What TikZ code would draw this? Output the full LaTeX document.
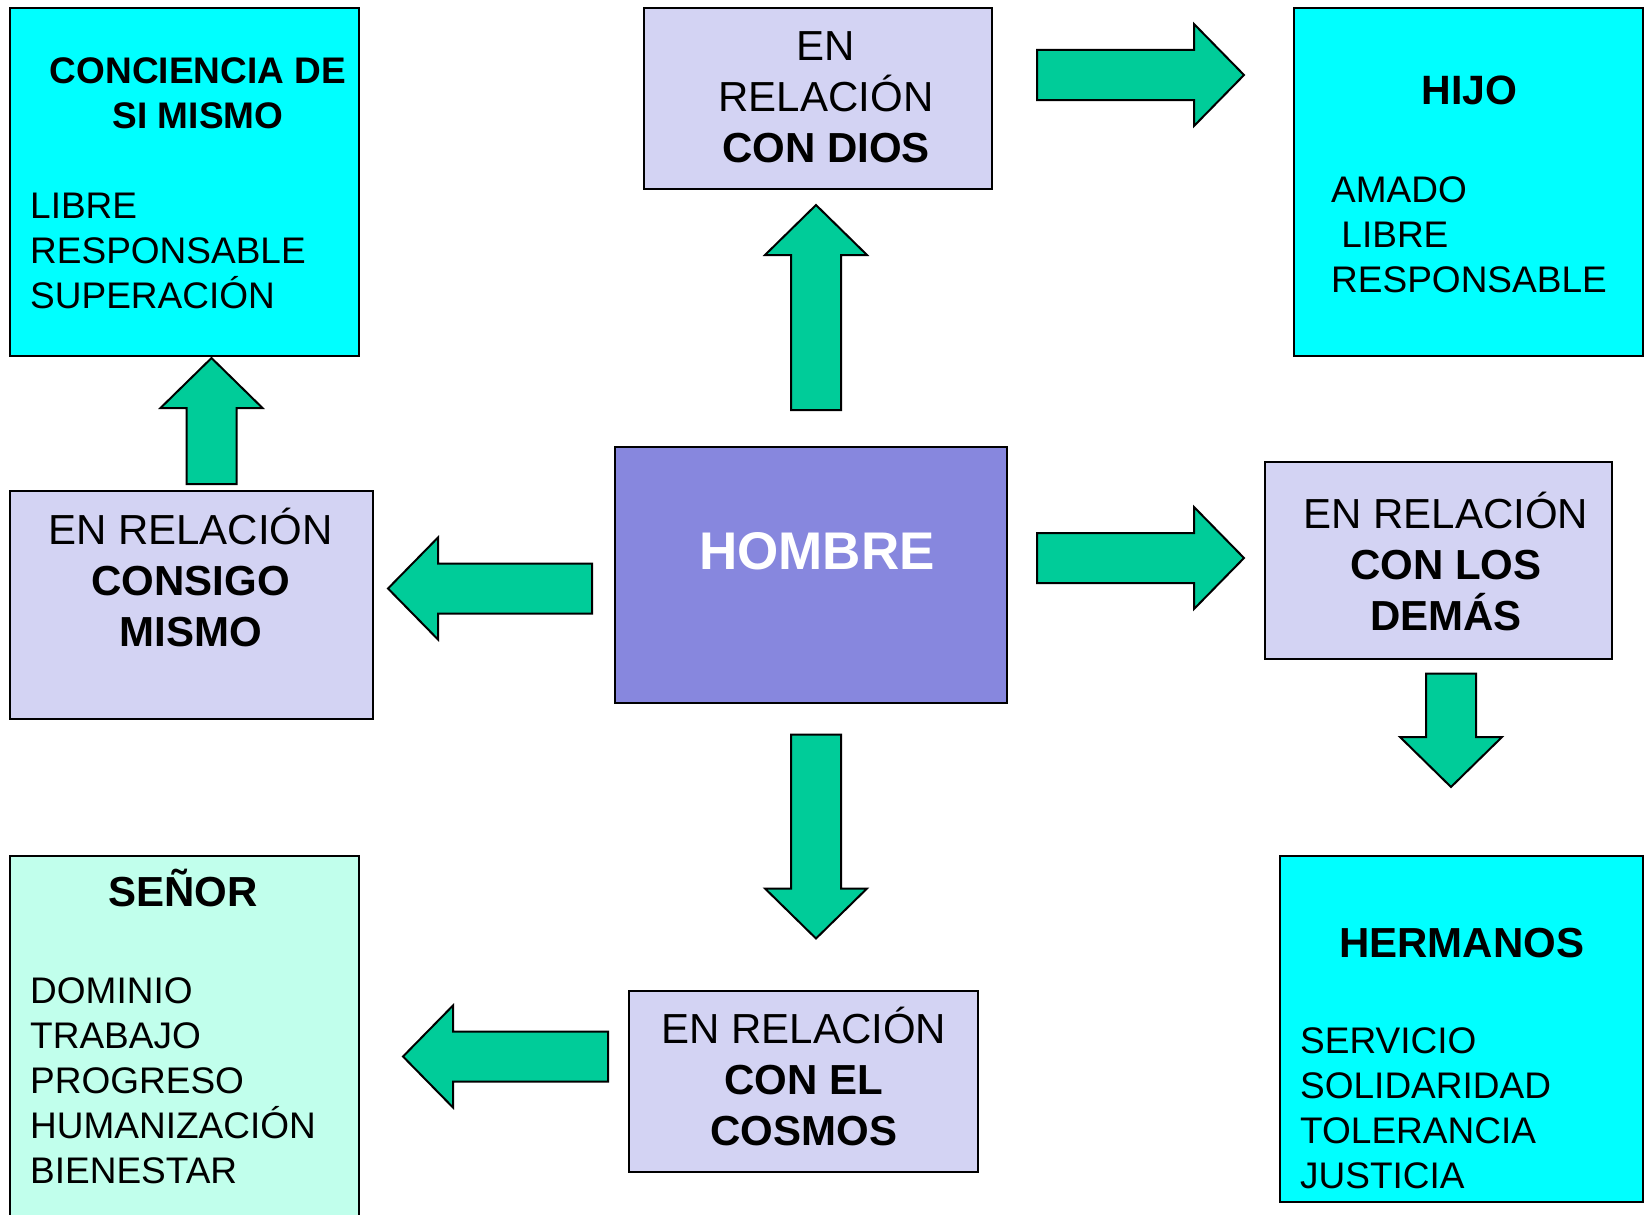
\documentclass[tikz,border=0pt]{standalone}
\usepackage{fontspec}
\setmainfont{Liberation Sans}
\usepackage{xcolor}
\usetikzlibrary{positioning}
\definecolor{cajacian}{RGB}{0,255,255}
\definecolor{cajalila}{RGB}{211,211,243}
\definecolor{cajahombre}{RGB}{135,135,222}
\definecolor{cajamenta}{RGB}{193,255,236}
\definecolor{flechaverde}{RGB}{0,204,153}

\begin{document}
\begin{tikzpicture}[x=1pt,y=-1pt,
	caja/.style={draw=black,line width=2pt,rectangle,inner sep=0pt},
	titulo/.style={inner sep=0pt,anchor=base,font=\bfseries\fontsize{42}{51}\selectfont},
	relacion/.style={inner sep=0pt,anchor=north,align=center,font=\fontsize{42}{51}\selectfont},
	lista/.style={inner sep=0pt,anchor=north west,align=left,font=\fontsize{37}{45}\selectfont},
	bloque/.style={draw=black,line width=2pt,fill=flechaverde,line join=miter}]
	\useasboundingbox (0,0) rectangle (1650,1215);

	% cajas
	\node[caja,fill=cajacian,minimum width=349,minimum height=348] (conciencia) at (184,182) {};
	\node[caja,fill=cajalila,minimum width=348,minimum height=181] (dios) at (818,98.5) {};
	\node[caja,fill=cajacian,minimum width=349,minimum height=348] (hijo) at (1468.5,182) {};
	\node[caja,fill=cajalila,minimum width=363,minimum height=228] (consigo) at (191,605) {};
	\node[caja,fill=cajahombre,minimum width=392,minimum height=256] (hombre) at (811,575) {};
	\node[caja,fill=cajalila,minimum width=347,minimum height=197] (demas) at (1438.5,560.5) {};
	\node[caja,fill=cajamenta,minimum width=349,minimum height=370] (senor) at (184,1040.5) {};
	\node[caja,fill=cajalila,minimum width=349,minimum height=181] (cosmos) at (803,1081.5) {};
	\node[caja,fill=cajacian,minimum width=363,minimum height=346] (hermanos) at (1461,1029) {};

	% textos
	\node[relacion,font=\bfseries\fontsize{37}{45}\selectfont] (conciencia-t) at (198,43) {\rule{0pt}{40pt}CONCIENCIA DE\\SI MISMO};
	\node[lista] (conciencia-l) at (30,178) {\rule{0pt}{40pt}LIBRE\\RESPONSABLE\\SUPERACIÓN};
	\node[relacion] (dios-t) at (826,20) {\rule{0pt}{40pt}EN\\RELACIÓN\\\textbf{CON DIOS}};
	\node[titulo,font=\bfseries\fontsize{41}{51}\selectfont] (hijo-t) at (1469.5,105) {HIJO};
	\node[lista] (hijo-l) at (1331,162) {\rule{0pt}{40pt}AMADO\\\ LIBRE\\RESPONSABLE};
	\node[relacion] (consigo-t) at (190.5,504) {\rule{0pt}{40pt}EN RELACIÓN\\\textbf{CONSIGO}\\\textbf{MISMO}};
	\node[titulo,text=white,font=\bfseries\fontsize{53}{60}\selectfont] (hombre-t) at (817,569) {HOMBRE};
	\node[relacion] (demas-t) at (1446,488) {\rule{0pt}{40pt}EN RELACIÓN\\\textbf{CON LOS}\\\textbf{DEMÁS}};
	\node[titulo] (senor-t) at (183,906) {SEÑOR};
	\node[lista] (senor-l) at (30,963) {\rule{0pt}{40pt}DOMINIO\\TRABAJO\\PROGRESO\\HUMANIZACIÓN\\BIENESTAR};
	\node[relacion] (cosmos-t) at (804,1003) {\rule{0pt}{40pt}EN RELACIÓN\\\textbf{CON EL}\\\textbf{COSMOS}};
	\node[titulo] (hermanos-t) at (1461.7,957) {HERMANOS};
	\node[lista] (hermanos-l) at (1300,1013) {\rule{0pt}{40pt}SERVICIO\\SOLIDARIDAD\\TOLERANCIA\\JUSTICIA};

	% flechas de bloque: cola x/y, angulo, largo
	\foreach \x/\y/\ang/\len in {1037/75/0/207, 816/410/90/205, 211.5/484/90/126,
		592/588.5/180/204, 1037/558/0/207, 1451/673.5/-90/113.5,
		816/734.5/-90/204, 608/1056.5/180/205}
		\draw[bloque,shift={(\x,\y)},rotate=\ang] (0,-25) -- (\len-50,-25) -- (\len-50,-51)
			-- (\len,0) -- (\len-50,51) -- (\len-50,25) -- (0,25) -- cycle;
\end{tikzpicture}
\end{document}
